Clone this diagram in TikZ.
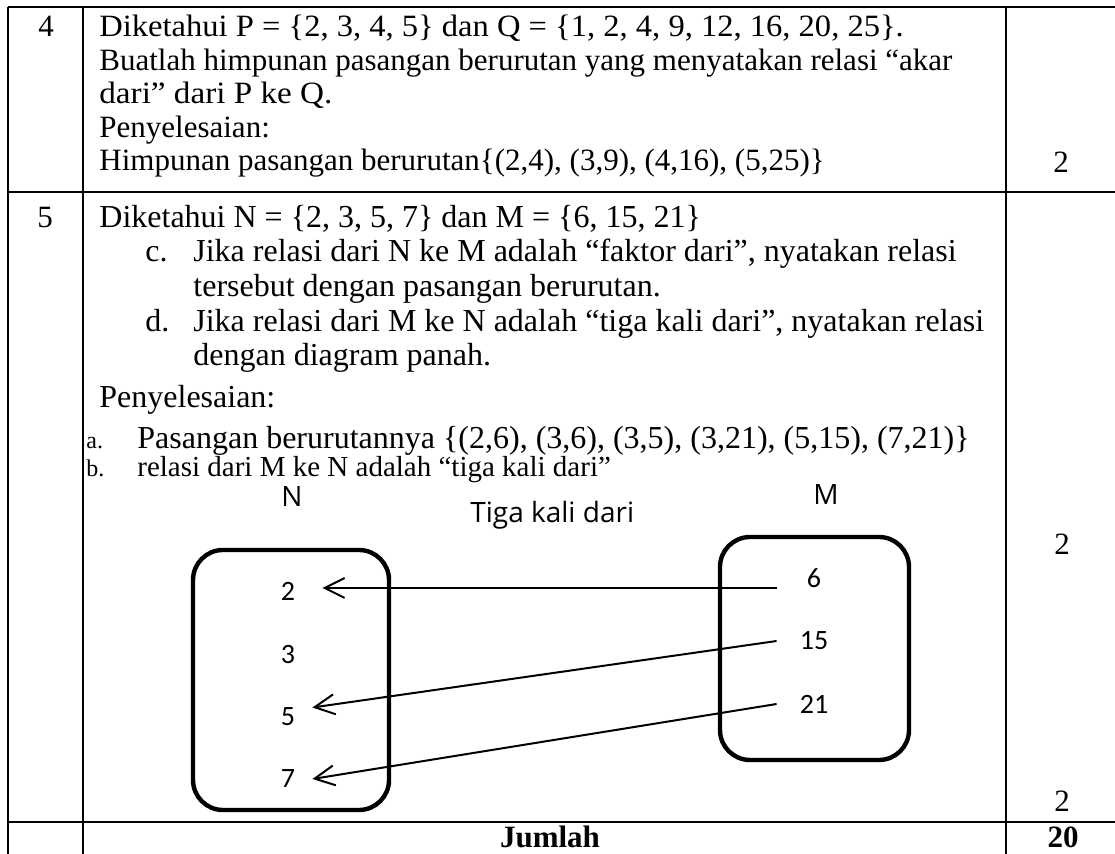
\documentclass[tikz,border=0pt]{standalone}
\usepackage{graphicx}
\usepackage{fontspec}
\setmainfont{Liberation Serif}
\newfontfamily\numfont{Carlito}
\newfontfamily\handfont{Open Sans}
\usetikzlibrary{arrows.meta}

\begin{document}
\begin{tikzpicture}[x=0.5pt,y=-0.5pt,
  grid/.style={line width=1.3pt},
  txt/.style={anchor=base west, inner sep=0pt, font=\fontsize{15.5}{18}\selectfont},
  txtb/.style={txt, font=\fontsize{16}{19}\selectfont},
  ctr/.style={anchor=base, inner sep=0pt, font=\fontsize{15.5}{18}\selectfont},
  lbl/.style={anchor=base west, inner sep=0pt, font=\fontsize{12}{14}\selectfont},
  setbox/.style={draw, line width=2.2pt, rounded corners=15pt},
  num/.style={font=\numfont\fontsize{14}{16}\selectfont, inner ysep=0pt, inner xsep=0pt},
  nnum/.style={num, minimum width=24pt},
  mnum/.style={num, minimum width=37pt},
  head/.style={font=\handfont\fontsize{14}{16}\selectfont, inner sep=0pt},
  rel/.style={line width=1pt, -{Straight Barb[length=10pt,width=10pt]}}
]
\useasboundingbox (0,0) rectangle (1115,854);

% table rules
\draw[grid] (8,7) -- (1115,7);
\draw[grid] (8,192) -- (1115,192);
\draw[grid] (8,822) -- (1115,822);
\draw[grid] (8,7) -- (8,854);
\draw[grid] (83,7) -- (83,854);
\draw[grid] (1006,7) -- (1006,854);

% row 4
\node[ctr] (no4) at (46,37) {4};
\node[txt] (r4a) at (99,37) {\scalebox{1.05}[1]{Diketahui P = \{2, 3, 4, 5\} dan Q = \{1, 2, 4, 9, 12, 16, 20, 25\}.}};
\node[txt] (r4b) at (99,70.5) {Buatlah himpunan pasangan berurutan yang menyatakan relasi “akar};
\node[txt] (r4c) at (99,104) {\scalebox{1.07}[1]{dari”\ dari P ke Q.}};
\node[txt] (r4d) at (99,137.5) {Penyelesaian:};
\node[txt] (r4e) at (99,171) {Himpunan pasangan berurutan\{(2,4), (3,9), (4,16), (5,25)\}};
\node[ctr] (sc4) at (1061,173) {2};

% row 5
\node[ctr] (no5) at (45,228) {5};
\node[txtb] (r5a) at (99,228) {Diketahui N = \{2, 3, 5, 7\} dan M = \{6, 15, 21\}};
\node[txtb] (ic) at (145,262) {c.};
\node[txtb] (r5c) at (193,262) {Jika relasi dari N ke M adalah “faktor dari”, nyatakan relasi};
\node[txtb] (r5c2) at (193,297) {tersebut dengan pasangan berurutan.};
\node[txtb] (id) at (145,332) {d.};
\node[txtb] (r5d) at (193,332) {Jika relasi dari M ke N adalah “tiga kali dari”, nyatakan relasi};
\node[txtb] (r5d2) at (193,366) {dengan diagram panah.};
\node[txtb] (r5p) at (99,408) {Penyelesaian:};
\node[lbl] (ia) at (86,449) {a.};
\node[txtb] (r5e) at (137,449) {Pasangan berurutannya \{(2,6), (3,6), (3,5), (3,21), (5,15), (7,21)\}};
\node[lbl] (ib) at (86,477) {b.};
\node[txt, font=\fontsize{14.5}{17}\selectfont] (r5f) at (137,477) {relasi dari M ke N adalah “tiga kali dari”};
\node[ctr] (sc5a) at (1062,555) {2};
\node[ctr] (sc5b) at (1062,812) {2};

% total row
\node[ctr, font=\bfseries\fontsize{15.5}{18}\selectfont] (tot) at (550,848) {Jumlah};
\node[ctr, font=\bfseries\fontsize{15.5}{18}\selectfont] (totv) at (1063,848) {20};

% arrow diagram
\node[head, anchor=base] (lN) at (292,507) {N};
\node[head, anchor=base] (lM) at (826,505) {M};
\node[head, anchor=base west] (lrel) at (470,523) {Tiga kali dari};

\node[setbox, minimum width=98pt, minimum height=130pt] (Nbox) at (291,680) {};
\node[setbox, minimum width=94.5pt, minimum height=111.5pt] (Mbox) at (814.5,648.5) {};

\node[nnum, minimum width=34pt] (n2) at (288,591) {2};
\node[nnum] (n3) at (288,655) {3};
\node[nnum] (n5) at (288,717) {5};
\node[nnum] (n7) at (288,779) {7};

\node[mnum] (m6) at (814,578) {6};
\node[mnum] (m15) at (814,641) {15};
\node[mnum] (m21) at (814,704) {21};

\draw[rel] (m6.south west) -- (n2.east |- m6.south west);
\draw[rel] (m15.west) -- (n5.north east);
\draw[rel] (m21.west) -- (n7.east);
\end{tikzpicture}
\end{document}
